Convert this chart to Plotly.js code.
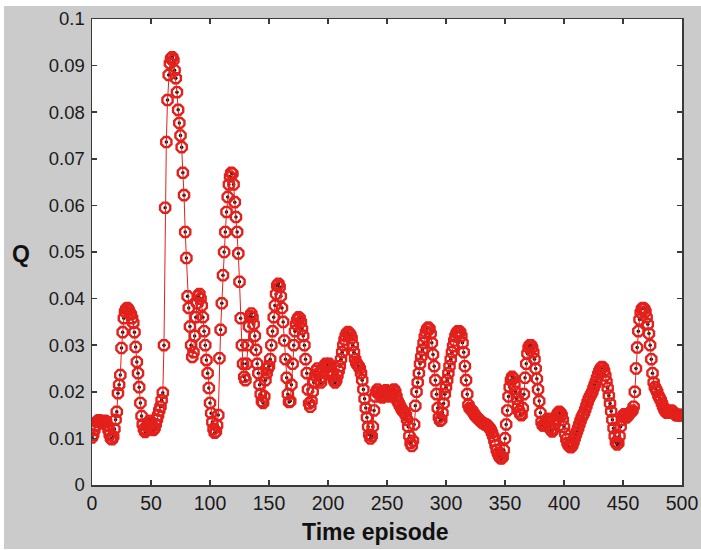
<!DOCTYPE html>
<html>
<head>
<meta charset="utf-8">
<script src="https://cdn.plot.ly/plotly-3.0.1.min.js"></script>
<style>
  html, body { margin: 0; padding: 0; background: #ffffff; }
  #chart { position: absolute; left: 4px; top: 6px; width: 697px; height: 543px; }
</style>
</head>
<body>
<div id="chart"></div>
<script>
// Q value per time episode (episodes 0..500)
const qValues = [
  0.0102, 0.0108, 0.0118, 0.0128, 0.0135, 0.0138, 0.0139, 0.0137, 0.0134, 0.0132,
  0.0135, 0.0138, 0.0136, 0.0128, 0.0118, 0.0108, 0.0100, 0.0098, 0.0104, 0.0120,
  0.0140, 0.0157, 0.0197, 0.0215, 0.0236, 0.0294, 0.0328, 0.0358, 0.0372, 0.0378,
  0.0380, 0.0376, 0.0370, 0.0366, 0.0358, 0.0348, 0.0328, 0.0296, 0.0264, 0.0240,
  0.0210, 0.0176, 0.0148, 0.0130, 0.0120, 0.0114, 0.0118, 0.0126, 0.0134, 0.0138,
  0.0132, 0.0124, 0.0118, 0.0122, 0.0130, 0.0140, 0.0150, 0.0160, 0.0168, 0.0182,
  0.0198, 0.0300, 0.0595, 0.0736, 0.0826, 0.0880, 0.0905, 0.0915, 0.0918, 0.0912,
  0.0890, 0.0873, 0.0843, 0.0805, 0.0777, 0.0750, 0.0725, 0.0670, 0.0622, 0.0543,
  0.0487, 0.0405, 0.0380, 0.0340, 0.0300, 0.0275, 0.0285, 0.0320, 0.0360, 0.0390,
  0.0405, 0.0410, 0.0400, 0.0385, 0.0360, 0.0330, 0.0300, 0.0268, 0.0240, 0.0208,
  0.0176, 0.0154, 0.0135, 0.0120, 0.0112, 0.0115, 0.0128, 0.0150, 0.0272, 0.0333,
  0.0390, 0.0450, 0.0500, 0.0543, 0.0586, 0.0618, 0.0645, 0.0662, 0.0670, 0.0668,
  0.0645, 0.0607, 0.0575, 0.0543, 0.0497, 0.0436, 0.0358, 0.0300, 0.0260, 0.0232,
  0.0225, 0.0260, 0.0300, 0.0340, 0.0362, 0.0368, 0.0360, 0.0345, 0.0320, 0.0290,
  0.0260, 0.0240, 0.0215, 0.0195, 0.0180, 0.0176, 0.0190, 0.0225, 0.0240, 0.0250,
  0.0255, 0.0270, 0.0300, 0.0330, 0.0360, 0.0385, 0.0410, 0.0428, 0.0432, 0.0425,
  0.0405, 0.0380, 0.0350, 0.0310, 0.0270, 0.0230, 0.0195, 0.0178, 0.0180, 0.0215,
  0.0260, 0.0300, 0.0330, 0.0345, 0.0355, 0.0360, 0.0358, 0.0350, 0.0335, 0.0320,
  0.0300, 0.0270, 0.0240, 0.0205, 0.0175, 0.0168, 0.0180, 0.0200, 0.0220, 0.0235,
  0.0245, 0.0250, 0.0240, 0.0225, 0.0220, 0.0232, 0.0245, 0.0255, 0.0260, 0.0258,
  0.0255, 0.0260, 0.0255, 0.0245, 0.0235, 0.0225, 0.0220, 0.0225, 0.0235, 0.0245,
  0.0255, 0.0270, 0.0285, 0.0300, 0.0312, 0.0320, 0.0326, 0.0328, 0.0326, 0.0322,
  0.0315, 0.0300, 0.0285, 0.0270, 0.0262, 0.0258, 0.0255, 0.0250, 0.0240, 0.0225,
  0.0205, 0.0185, 0.0165, 0.0145, 0.0125, 0.0108, 0.0100, 0.0105, 0.0125, 0.0160,
  0.0190, 0.0200, 0.0205, 0.0200, 0.0195, 0.0190, 0.0188, 0.0192, 0.0198, 0.0203,
  0.0200, 0.0195, 0.0190, 0.0192, 0.0198, 0.0203, 0.0205, 0.0200, 0.0190, 0.0180,
  0.0175, 0.0170, 0.0165, 0.0160, 0.0158, 0.0155, 0.0150, 0.0140, 0.0125, 0.0105,
  0.0090, 0.0084, 0.0095, 0.0130, 0.0170, 0.0200, 0.0220, 0.0240, 0.0260, 0.0275,
  0.0290, 0.0305, 0.0318, 0.0328, 0.0335, 0.0338, 0.0335, 0.0325, 0.0305, 0.0280,
  0.0255, 0.0225, 0.0195, 0.0165, 0.0145, 0.0138, 0.0140, 0.0155, 0.0175, 0.0195,
  0.0210, 0.0225, 0.0240, 0.0255, 0.0270, 0.0285, 0.0298, 0.0310, 0.0320, 0.0326,
  0.0330, 0.0330, 0.0328, 0.0320, 0.0305, 0.0285, 0.0255, 0.0225, 0.0195, 0.0172,
  0.0165, 0.0162, 0.0160, 0.0156, 0.0152, 0.0148, 0.0145, 0.0143, 0.0140, 0.0138,
  0.0135, 0.0133, 0.0132, 0.0130, 0.0130, 0.0128, 0.0125, 0.0122, 0.0118, 0.0112,
  0.0105, 0.0095, 0.0085, 0.0075, 0.0068, 0.0062, 0.0058, 0.0057, 0.0060, 0.0075,
  0.0100, 0.0130, 0.0160, 0.0190, 0.0210, 0.0225, 0.0232, 0.0228, 0.0215, 0.0200,
  0.0185, 0.0170, 0.0158, 0.0152, 0.0150, 0.0165, 0.0195, 0.0230, 0.0260, 0.0282,
  0.0295, 0.0300, 0.0300, 0.0295, 0.0285, 0.0270, 0.0250, 0.0228, 0.0205, 0.0180,
  0.0155, 0.0135, 0.0128, 0.0128, 0.0132, 0.0138, 0.0142, 0.0135, 0.0125, 0.0118,
  0.0115, 0.0120, 0.0130, 0.0142, 0.0150, 0.0155, 0.0157, 0.0155, 0.0150, 0.0140,
  0.0125, 0.0110, 0.0098, 0.0090, 0.0085, 0.0082, 0.0081, 0.0085, 0.0092, 0.0100,
  0.0108, 0.0115, 0.0122, 0.0130, 0.0138, 0.0145, 0.0150, 0.0155, 0.0162, 0.0170,
  0.0178, 0.0185, 0.0190, 0.0195, 0.0200, 0.0208, 0.0215, 0.0222, 0.0230, 0.0238,
  0.0245, 0.0250, 0.0253, 0.0252, 0.0245, 0.0235, 0.0222, 0.0208, 0.0192, 0.0175,
  0.0158, 0.0140, 0.0122, 0.0105, 0.0092, 0.0087, 0.0090, 0.0105, 0.0125, 0.0140,
  0.0148, 0.0152, 0.0150, 0.0145, 0.0148, 0.0152, 0.0155, 0.0157, 0.0160, 0.0168,
  0.0200, 0.0250, 0.0295, 0.0330, 0.0355, 0.0370, 0.0378, 0.0380, 0.0378, 0.0372,
  0.0360, 0.0345, 0.0325, 0.0300, 0.0270, 0.0240, 0.0220, 0.0210, 0.0205, 0.0200,
  0.0192, 0.0187, 0.0182, 0.0175, 0.0168, 0.0162, 0.0158, 0.0155, 0.0155, 0.0156,
  0.0158, 0.0160, 0.0158, 0.0155, 0.0152, 0.0150, 0.0150, 0.0150, 0.0150, 0.0150,
  0.0150
];
const episodes = qValues.map((_, i) => i);

const xTickVals = [0, 50, 100, 150, 200, 250, 300, 350, 400, 450, 500];
const xTickText = ['0', '50', '100', '150', '200', '250', '300', '350', '400', '450', '500'];
const yTickVals = [0, 0.01, 0.02, 0.03, 0.04, 0.05, 0.06, 0.07, 0.08, 0.09, 0.1];
const yTickText = ['0', '0.01', '0.02', '0.03', '0.04', '0.05', '0.06', '0.07', '0.08', '0.09', '0.1'];

const RED = '#e3201b';
const AXIS = '#3a3a3a';
const FONT = 'Liberation Sans, Arial, Helvetica, sans-serif';

const traces = [
  {
    // dark centre dots, drawn beneath the red rings
    x: episodes, y: qValues, type: 'scatter', mode: 'markers',
    marker: { symbol: 'circle', size: 3.5, color: '#111111' },
    hoverinfo: 'skip', showlegend: false
  },
  {
    x: episodes, y: qValues, type: 'scatter', mode: 'lines+markers',
    line: { color: RED, width: 1 },
    marker: { symbol: 'octagon-open', size: 11, color: RED, line: { color: RED, width: 2.4 } },
    showlegend: false
  }
];

const axisCommon = {
  showline: true, linecolor: AXIS, linewidth: 1.5, mirror: 'ticks',
  ticks: 'inside', ticklen: 5, tickwidth: 1.5, tickcolor: AXIS,
  showgrid: false, zeroline: false, tickmode: 'array'
};

const layout = {
  width: 697, height: 543,
  paper_bgcolor: '#cbcbcb', plot_bgcolor: '#ffffff',
  margin: { l: 88, r: 19, t: 13, b: 64 },
  xaxis: Object.assign({}, axisCommon, {
    range: [0, 500], tickvals: xTickVals, ticktext: xTickText,
    tickfont: { family: FONT, size: 19.5, color: '#1a1a1a' }
  }),
  yaxis: Object.assign({}, axisCommon, {
    range: [0, 0.1], tickvals: yTickVals, ticktext: yTickText, ticklabelstandoff: 2,
    tickfont: { family: FONT, size: 18.5, color: '#1a1a1a' }
  }),
  annotations: [
    {
      text: 'Q', xref: 'paper', yref: 'paper', x: 0, y: 0.5,
      xanchor: 'center', yanchor: 'middle', xshift: -71, yshift: -2, showarrow: false,
      font: { family: FONT, size: 23, color: '#111111', weight: 'bold' }
    },
    {
      text: 'Time episode', xref: 'paper', yref: 'paper', x: 0.481, y: 0,
      xanchor: 'center', yanchor: 'middle', yshift: -47, showarrow: false,
      font: { family: FONT, size: 23, color: '#111111', weight: 'bold' }
    }
  ]
};

Plotly.newPlot('chart', traces, layout, { displayModeBar: false, staticPlot: true });
</script>
</body>
</html>
